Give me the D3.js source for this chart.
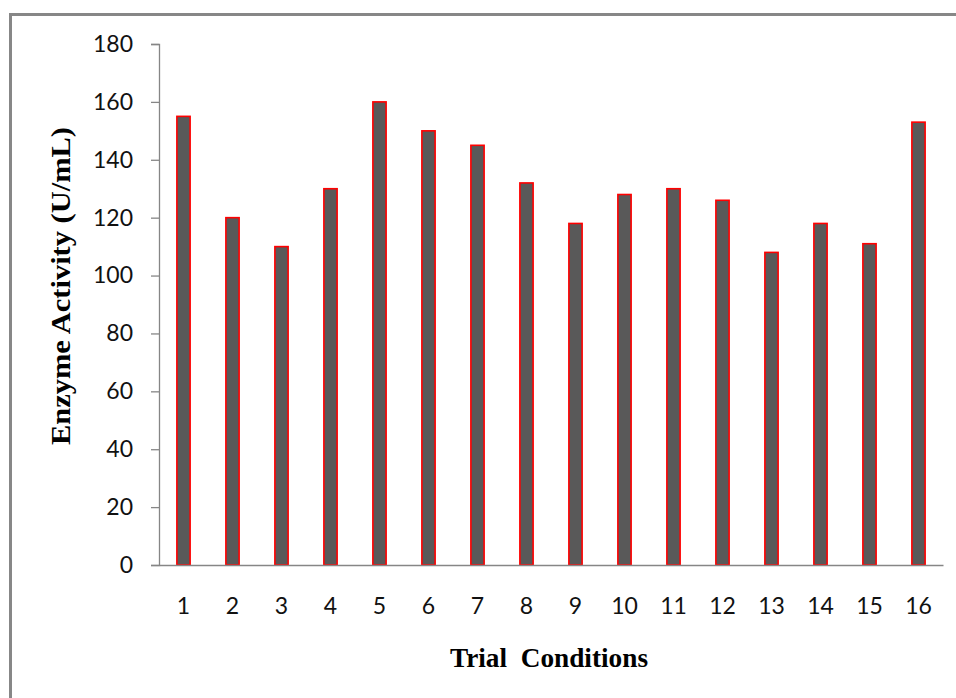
<!DOCTYPE html>
<html>
<head>
<meta charset="utf-8">
<script src="https://cdn.jsdelivr.net/npm/d3@7"></script>
<style>
  html, body { margin: 0; padding: 0; background: #fff; }
  svg { display: block; }
</style>
</head>
<body>
<div id="chart"></div>
<script>
// Chart data
const trials = ["1", "2", "3", "4", "5", "6", "7", "8", "9", "10", "11", "12", "13", "14", "15", "16"];
const activity = [155, 120, 110, 130, 160, 150, 145, 132, 118, 128, 130, 126, 108, 118, 111, 153];
const yTicks = [0, 20, 40, 60, 80, 100, 120, 140, 160, 180];

const width = 956;
const height = 698;
const margin = { top: 44, right: 13, bottom: 133, left: 159 };

const svg = d3.select("#chart")
  .append("svg")
  .attr("width", width)
  .attr("height", height);

// Outer frame (runs off the right and bottom edges)
svg.append("rect")
  .attr("x", 10.5)
  .attr("y", 14.5)
  .attr("width", width + 20)
  .attr("height", height + 20)
  .attr("fill", "none")
  .attr("stroke", "#878787")
  .attr("stroke-width", 3);

const x = d3.scaleBand()
  .domain(trials)
  .range([margin.left, width - margin.right])
  .paddingInner(0.73)
  .paddingOuter(0.365);

const y = d3.scaleLinear()
  .domain([0, 180])
  .range([height - margin.bottom, margin.top]);

// Y axis
const yAxis = svg.append("g")
  .attr("transform", `translate(${margin.left},0)`)
  .call(d3.axisLeft(y).tickValues(yTicks).tickSize(8).tickPadding(18));

yAxis.select(".domain").attr("stroke", "#868686").attr("stroke-width", 1.3);
yAxis.selectAll(".tick line").attr("stroke", "#868686").attr("stroke-width", 1.3);
yAxis.selectAll(".tick text")
  .attr("fill", "#111")
  .style("font-family", "Lato, 'Open Sans', sans-serif")
  .style("font-size", "23px");

// Bars
svg.append("g")
  .selectAll("rect")
  .data(activity)
  .enter()
  .append("rect")
  .attr("x", (d, i) => x(trials[i]))
  .attr("y", d => y(d))
  .attr("width", x.bandwidth())
  .attr("height", d => y(0) - y(d))
  .attr("fill", "#595959")
  .attr("stroke", "#ff0000")
  .attr("stroke-width", 1.6);

// X axis
const xAxis = svg.append("g")
  .attr("transform", `translate(0,${height - margin.bottom})`)
  .call(d3.axisBottom(x).tickSize(0).tickPadding(33));

xAxis.select(".domain").attr("stroke", "#868686").attr("stroke-width", 1.3);
xAxis.selectAll(".tick text")
  .attr("fill", "#111")
  .style("font-family", "Lato, 'Open Sans', sans-serif")
  .style("font-size", "23px");

// Axis titles
svg.append("text")
  .attr("x", 549)
  .attr("y", 667)
  .attr("text-anchor", "middle")
  .attr("textLength", 198)
  .attr("lengthAdjust", "spacingAndGlyphs")
  .style("font-family", "'Liberation Serif', 'Times New Roman', serif")
  .style("font-weight", "bold")
  .style("font-size", "27px")
  .style("white-space", "pre")
  .attr("fill", "#000")
  .text("Trial  Conditions");

svg.append("text")
  .attr("transform", "translate(70,286) rotate(-90)")
  .attr("text-anchor", "middle")
  .attr("textLength", 318)
  .attr("lengthAdjust", "spacingAndGlyphs")
  .style("font-family", "'Liberation Serif', 'Times New Roman', serif")
  .style("font-weight", "bold")
  .style("font-size", "27px")
  .attr("fill", "#000")
  .text("Enzyme Activity (U/mL)");
</script>
</body>
</html>
